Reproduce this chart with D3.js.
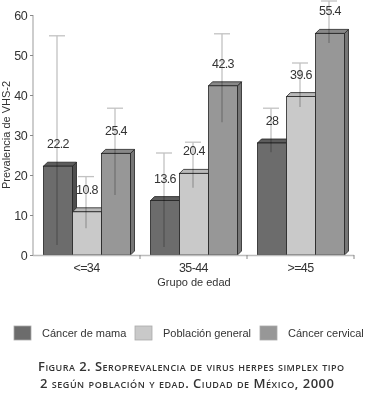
<!DOCTYPE html>
<html>
<head>
<meta charset="utf-8">
<script src="https://cdn.jsdelivr.net/npm/d3@7"></script>
<style>
  body { margin: 0; background: #fff; }
  text { fill: #333; }
  .narrow { font-family: "Liberation Sans Narrow", "Liberation Sans", Arial, sans-serif; letter-spacing: -0.6px; }
  .reg { font-family: "Liberation Sans", Arial, sans-serif; }
</style>
</head>
<body>
<div id="chart"></div>
<script>
// age groups and series
var groups = ["<=34", "35-44", ">=45"];
var seriesNames = ["Cáncer de mama", "Población general", "Cáncer cervical"];

// prevalence values per group
var mama = [22.2, 13.6, 28];
var poblacion = [10.8, 20.4, 39.6];
var cervical = [25.4, 42.3, 55.4];

// error bars (low / high)
var mamaLow = [2.5, 2, 25.7];
var mamaHigh = [54.8, 25.5, 36.7];
var poblacionLow = [6.7, 16.8, 37];
var poblacionHigh = [19.6, 28.2, 48];
var cervicalLow = [15, 33.2, 53];
var cervicalHigh = [36.7, 55.3, 63.5];

var yTicks = [0, 10, 20, 30, 40, 50, 60];

var width = 373, height = 398;
var depth = 4;

var fronts = ["#6c6c6c", "#c9c9c9", "#979797"];
var tops = ["#5c5c5c", "#b9b9b9", "#888888"];
var sides = ["#4e4e4e", "#a9a9a9", "#767676"];

var svg = d3.select("#chart").append("svg")
    .attr("width", width)
    .attr("height", height);

var x0 = d3.scaleBand().domain(groups).range([33, 354]);
var x1 = d3.scaleBand().domain([0, 1, 2]).range([10.5, 97.5]);
var y = d3.scaleLinear().domain([0, 60]).range([255, 15]);

// build rows from the arrays
var values = [mama, poblacion, cervical];
var lows = [mamaLow, poblacionLow, cervicalLow];
var highs = [mamaHigh, poblacionHigh, cervicalHigh];
var rows = [];
groups.forEach(function(g, gi) {
  [0, 1, 2].forEach(function(s) {
    rows.push({group: g, s: s, v: values[s][gi], lo: lows[s][gi], hi: highs[s][gi]});
  });
});

// y axis
var yAxis = svg.append("g")
    .attr("transform", "translate(33,0)")
    .call(d3.axisLeft(y).tickValues(yTicks).tickSize(3).tickPadding(3));
yAxis.select(".domain").attr("stroke", "#bdbdbd").attr("stroke-width", 1.5)
    .attr("d", "M0,15V255");
yAxis.selectAll(".tick line").attr("stroke", "#888");
yAxis.selectAll(".tick text").attr("class", "narrow").style("font-size", "12.5px").attr("fill", "#333");

// bars
var bar = svg.append("g").selectAll("g")
    .data(rows)
    .enter().append("g");

bar.each(function(d) {
  var g = d3.select(this);
  var x = x0(d.group) + x1(d.s);
  var w = x1.bandwidth();
  var top = y(d.v), base = y(0);
  g.append("path")
    .attr("d", "M" + (x + w) + "," + top + "L" + (x + w + depth) + "," + (top - depth) +
      "L" + (x + w + depth) + "," + (base - depth) + "L" + (x + w) + "," + base + "Z")
    .attr("fill", sides[d.s]).attr("stroke", "#222").attr("stroke-width", 0.8);
  g.append("path")
    .attr("d", "M" + x + "," + top + "L" + (x + depth) + "," + (top - depth) +
      "L" + (x + w + depth) + "," + (top - depth) + "L" + (x + w) + "," + top + "Z")
    .attr("fill", tops[d.s]).attr("stroke", "#222").attr("stroke-width", 0.8);
  g.append("rect")
    .attr("x", x).attr("y", top)
    .attr("width", w).attr("height", base - top)
    .attr("fill", fronts[d.s]).attr("stroke", "#222").attr("stroke-width", 0.8);
});

// x axis
var xAxis = svg.append("g");
xAxis.append("line")
    .attr("x1", 33).attr("x2", 354).attr("y1", 255.5).attr("y2", 255.5)
    .attr("stroke", "#bdbdbd").attr("stroke-width", 1.5);
xAxis.selectAll(".xt")
    .data(groups)
    .enter().append("line")
    .attr("x1", function(d) { return x0(d) + x0.bandwidth(); })
    .attr("x2", function(d) { return x0(d) + x0.bandwidth(); })
    .attr("y1", 255).attr("y2", 259)
    .attr("stroke", "#888");
xAxis.selectAll(".xl")
    .data(groups)
    .enter().append("text")
    .attr("class", "narrow")
    .attr("x", function(d) { return x0(d) + x0.bandwidth() / 2; })
    .attr("y", 272)
    .attr("text-anchor", "middle")
    .style("font-size", "12.5px")
    .text(function(d) { return d; });

// error bars
var err = svg.append("g").style("mix-blend-mode", "multiply");
rows.forEach(function(d) {
  var cx = x0(d.group) + x1(d.s) + x1.bandwidth() / 2 - 1;
  err.append("line")
    .attr("x1", cx).attr("x2", cx)
    .attr("y1", y(d.hi)).attr("y2", y(d.lo))
    .attr("stroke", "#c2c2c2").attr("stroke-width", 1.3);
  err.append("line")
    .attr("x1", cx - 8).attr("x2", cx + 8)
    .attr("y1", y(d.hi)).attr("y2", y(d.hi))
    .attr("stroke", "#c2c2c2").attr("stroke-width", 1.3);
});

// value labels
svg.append("g").selectAll("text")
    .data(rows)
    .enter().append("text")
    .attr("class", "narrow")
    .attr("x", function(d) { return x0(d.group) + x1(d.s) + x1.bandwidth() / 2; })
    .attr("y", function(d) { return y(d.v) - 18; })
    .attr("text-anchor", "middle")
    .style("font-size", "12.5px")
    .text(function(d) { return d.v; });

// axis titles
svg.append("text")
    .attr("class", "reg")
    .attr("transform", "translate(10,135) rotate(-90)")
    .attr("text-anchor", "middle")
    .style("font-size", "11px")
    .text("Prevalencia de VHS-2");
svg.append("text")
    .attr("class", "reg")
    .attr("x", 194).attr("y", 286)
    .attr("text-anchor", "middle")
    .style("font-size", "11px")
    .text("Grupo de edad");

// legend
var legendX = [14, 135, 260];
var legend = svg.append("g").selectAll("g")
    .data(seriesNames)
    .enter().append("g")
    .attr("transform", function(d, i) { return "translate(" + legendX[i] + ",326)"; });
legend.append("rect")
    .attr("width", 17).attr("height", 14)
    .attr("fill", function(d, i) { return fronts[i]; })
    .attr("stroke", "#aaa").attr("stroke-width", 0.8);
legend.append("text")
    .attr("class", "reg")
    .attr("x", 28)
    .attr("y", 11)
    .style("font-size", "11px")
    .text(function(d) { return d; });

// caption
var cap = svg.append("g")
    .style("font-family", "'Open Sans', 'Liberation Sans', sans-serif")
    .style("font-size", "13px").style("font-weight", "600")
    .style("font-variant", "small-caps");
cap.append("text")
    .attr("x", 38).attr("y", 371)
    .attr("textLength", 306).attr("lengthAdjust", "spacing")
    .text("Figura 2. Seroprevalencia de virus herpes simplex tipo");
cap.append("text")
    .attr("x", 40).attr("y", 388)
    .attr("textLength", 294).attr("lengthAdjust", "spacing")
    .text("2 según población y edad. Ciudad de México, 2000");
</script>
</body>
</html>
